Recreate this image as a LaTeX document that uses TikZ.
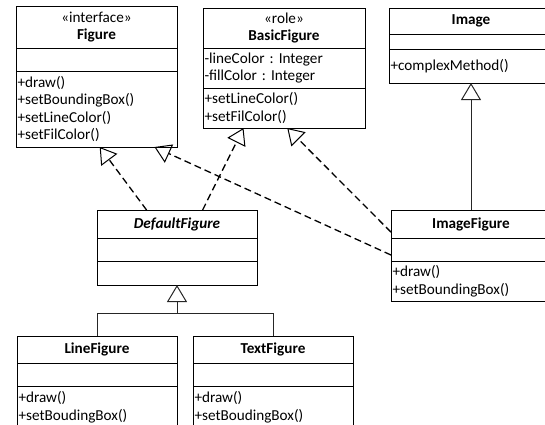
\documentclass[tikz,border=0pt]{standalone}
\usepackage{fontspec}
\setmainfont{Carlito}
\frenchspacing
\usetikzlibrary{arrows.meta,calc}
\tikzset{
  box/.style    ={draw,line width=0.9pt,anchor=north west,inner xsep=1.5pt,inner ysep=0pt,outer sep=0pt,font=\fontsize{15.2}{17.5}\selectfont},
  head/.style   ={box,align=center},
  part/.style   ={box,align=left},
  realize/.style={draw,line width=1.3pt,dash pattern=on 7pt off 4pt,-{Triangle[open,length=16pt,width=20pt,line width=1pt]}},
  inherit/.style={draw,gray!30!black,line width=0.8pt},
  gentip/.style ={-{Triangle[open,length=17pt,width=20pt,line width=1pt]}},
}
\begin{document}
\begin{tikzpicture}[x=1pt,y=-1pt]
  \useasboundingbox (0,0) rectangle (545,424);
  \clip (0,0) rectangle (545,424);
  % Figure
  \node[head,minimum width=161pt,minimum height=42pt] (fig-h) at (16,6) {«interface»\\\textbf{Figure}};
  \node[part,text width=158pt,minimum height=23pt] (fig-a) at (16,48) {};
  \node[part,text width=158pt,minimum height=76pt] (fig-m) at (16,71) {+draw()\\+setBoundingBox()\\+setLineColor()\\+setFilColor()};
  % BasicFigure
  \node[head,minimum width=162pt,minimum height=40pt] (bfig-h) at (203,8) {«role»\\\textbf{BasicFigure}};
  \node[part,text width=159pt,minimum height=40pt] (bfig-a) at (203,48) {-lineColor : Integer\\-fillColor : Integer};
  \node[part,text width=159pt,minimum height=40pt] (bfig-m) at (203,88) {+setLineColor()\\+setFilColor()};
  % Image
  \node[head,minimum width=164pt,minimum height=26pt] (img-h) at (389,8) {\textbf{Image}};
  \node[part,text width=161pt,minimum height=15pt] (img-a) at (389,34) {};
  \node[part,text width=161pt,minimum height=34pt] (img-m) at (389,49) {+complexMethod()};
  % DefaultFigure
  \node[head,minimum width=160pt,minimum height=28pt] (dfig-h) at (97,210) {\textbf{\textit{DefaultFigure}}};
  \node[part,text width=157pt,minimum height=23pt] (dfig-a) at (97,238) {};
  \node[part,text width=157pt,minimum height=24pt] (dfig-m) at (97,261) {};
  % ImageFigure
  \node[head,minimum width=160pt,minimum height=28pt] (ifig-h) at (391,210) {\textbf{ImageFigure}};
  \node[part,text width=157pt,minimum height=23pt] (ifig-a) at (391,238) {};
  \node[part,text width=157pt,minimum height=40pt] (ifig-m) at (391,261) {+draw()\\+setBoundingBox()};
  % LineFigure
  \node[head,minimum width=160pt,minimum height=27pt] (lfig-h) at (17,336) {\textbf{LineFigure}};
  \node[part,text width=157pt,minimum height=23pt] (lfig-a) at (17,363) {};
  \node[part,text width=157pt,minimum height=42pt] (lfig-m) at (17,386) {+draw()\\+setBoudingBox()};
  % TextFigure
  \node[head,minimum width=160pt,minimum height=27pt] (tfig-h) at (193,336) {\textbf{TextFigure}};
  \node[part,text width=157pt,minimum height=23pt] (tfig-a) at (193,363) {};
  \node[part,text width=157pt,minimum height=42pt] (tfig-m) at (193,386) {+draw()\\+setBoudingBox()};
  % realizations
  \draw[realize] ($(dfig-h.north west)!0.31!(dfig-h.north east)$) -- ($(fig-m.south west)!0.52!(fig-m.south east)$);
  \draw[realize] ($(dfig-h.north west)!0.66!(dfig-h.north east)$) -- ($(bfig-m.south west)!0.25!(bfig-m.south east)$);
  \draw[realize] ($(ifig-a.north west)!0.74!(ifig-a.south west)$) -- ($(fig-m.south west)!0.86!(fig-m.south east)$);
  \draw[realize] ($(ifig-h.north west)!0.79!(ifig-h.south west)$) -- ($(bfig-m.south west)!0.52!(bfig-m.south east)$);
  % generalizations
  \draw[inherit,gentip] (ifig-h.north) -- (img-m.south);
  \coordinate (fork) at ($(dfig-m.south)+(0,28)$);
  \draw[inherit] (lfig-h.north) |- (fork) -| (tfig-h.north);
  \draw[inherit,gentip] (fork) -- (dfig-m.south);
\end{tikzpicture}
\end{document}
